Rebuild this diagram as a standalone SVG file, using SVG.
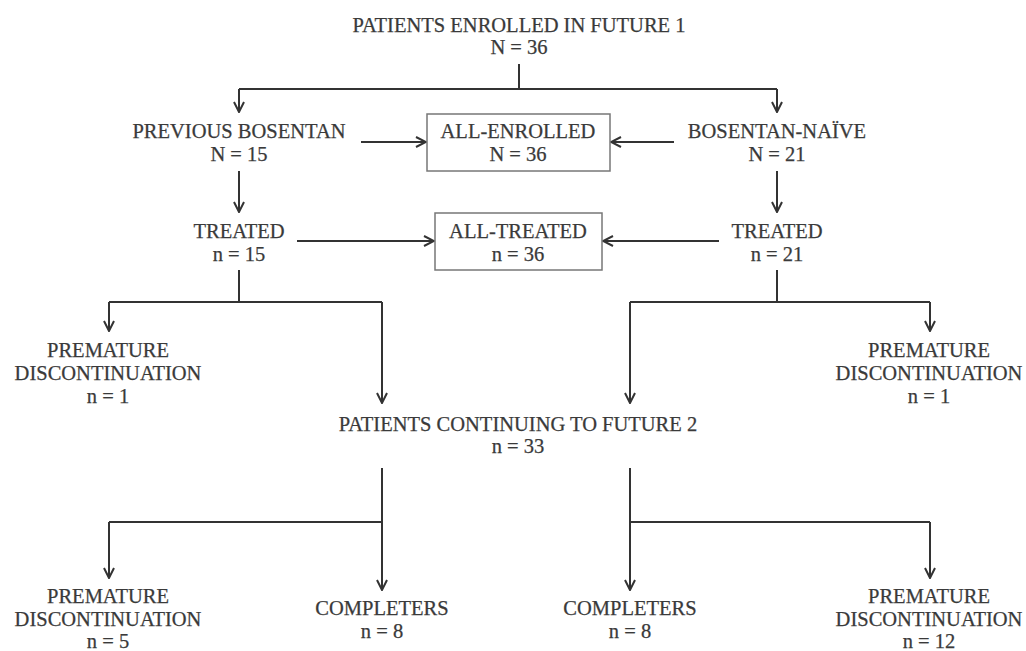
<svg xmlns="http://www.w3.org/2000/svg" width="1026" height="651" viewBox="0 0 1026 651">
<style>
text{font-family:"Liberation Serif","Times New Roman",serif;font-size:20.5px;fill:#3a3a3a;stroke:#3a3a3a;stroke-width:0.25;text-anchor:middle}
.c{fill:none;stroke:#333;stroke-width:2}
.box{fill:#fff;stroke:#777;stroke-width:1.5}
</style>
<defs>
<marker id="ah" viewBox="0 0 12 12" refX="11" refY="6" markerWidth="12" markerHeight="12" markerUnits="userSpaceOnUse" orient="auto">
<path d="M1,1 L11,6 L1,11" fill="none" stroke="#333" stroke-width="2"/>
</marker>
</defs>
<rect width="1026" height="651" fill="#fff"/>
<g id="connectors">
<path class="c" d="M519,64 V89"/>
<path class="c" d="M239,89 H777"/>
<path class="c" d="M239,89 V112" marker-end="url(#ah)"/>
<path class="c" d="M777,89 V112" marker-end="url(#ah)"/>
<path class="c" d="M361,142 H426" marker-end="url(#ah)"/>
<path class="c" d="M674,142 H611" marker-end="url(#ah)"/>
<path class="c" d="M239,171 V212" marker-end="url(#ah)"/>
<path class="c" d="M777,171 V212" marker-end="url(#ah)"/>
<path class="c" d="M297,241 H434" marker-end="url(#ah)"/>
<path class="c" d="M719,241 H603" marker-end="url(#ah)"/>
<path class="c" d="M239,270 V302"/>
<path class="c" d="M109,302 H382"/>
<path class="c" d="M109,302 V331" marker-end="url(#ah)"/>
<path class="c" d="M382,302 V403" marker-end="url(#ah)"/>
<path class="c" d="M777,270 V302"/>
<path class="c" d="M630,302 H930"/>
<path class="c" d="M930,302 V331" marker-end="url(#ah)"/>
<path class="c" d="M630,302 V403" marker-end="url(#ah)"/>
<path class="c" d="M382,468 V590" marker-end="url(#ah)"/>
<path class="c" d="M109,522 H382"/>
<path class="c" d="M109,522 V578" marker-end="url(#ah)"/>
<path class="c" d="M630,468 V590" marker-end="url(#ah)"/>
<path class="c" d="M630,522 H930"/>
<path class="c" d="M930,522 V578" marker-end="url(#ah)"/>
</g>
<g id="enrolled"><text x="519" y="32">PATIENTS ENROLLED IN FUTURE 1</text><text x="519" y="54">N = 36</text></g>
<g id="prev-bosentan"><text x="239" y="138">PREVIOUS BOSENTAN</text><text x="239" y="161">N = 15</text></g>
<g id="all-enrolled"><rect class="box" x="427" y="114" width="183" height="57"/><text x="518" y="138">ALL-ENROLLED</text><text x="518" y="161">N = 36</text></g>
<g id="naive"><text x="777" y="138">BOSENTAN-NAÏVE</text><text x="777" y="161">N = 21</text></g>
<g id="treated-left"><text x="239" y="238">TREATED</text><text x="239" y="261">n = 15</text></g>
<g id="all-treated"><rect class="box" x="435" y="213" width="167" height="57"/><text x="518" y="238">ALL-TREATED</text><text x="518" y="261">n = 36</text></g>
<g id="treated-right"><text x="777" y="238">TREATED</text><text x="777" y="261">n = 21</text></g>
<g id="disc-left1"><text x="108" y="357">PREMATURE</text><text x="108" y="380">DISCONTINUATION</text><text x="108" y="403">n = 1</text></g>
<g id="disc-right1"><text x="929" y="357">PREMATURE</text><text x="929" y="380">DISCONTINUATION</text><text x="929" y="403">n = 1</text></g>
<g id="continuing"><text x="518" y="431">PATIENTS CONTINUING TO FUTURE 2</text><text x="518" y="453">n = 33</text></g>
<g id="disc-left2"><text x="108" y="603">PREMATURE</text><text x="108" y="626">DISCONTINUATION</text><text x="108" y="648">n = 5</text></g>
<g id="comp-left"><text x="382" y="615">COMPLETERS</text><text x="382" y="638">n = 8</text></g>
<g id="comp-right"><text x="630" y="615">COMPLETERS</text><text x="630" y="638">n = 8</text></g>
<g id="disc-right2"><text x="929" y="603">PREMATURE</text><text x="929" y="626">DISCONTINUATION</text><text x="929" y="648">n = 12</text></g>
</svg>
